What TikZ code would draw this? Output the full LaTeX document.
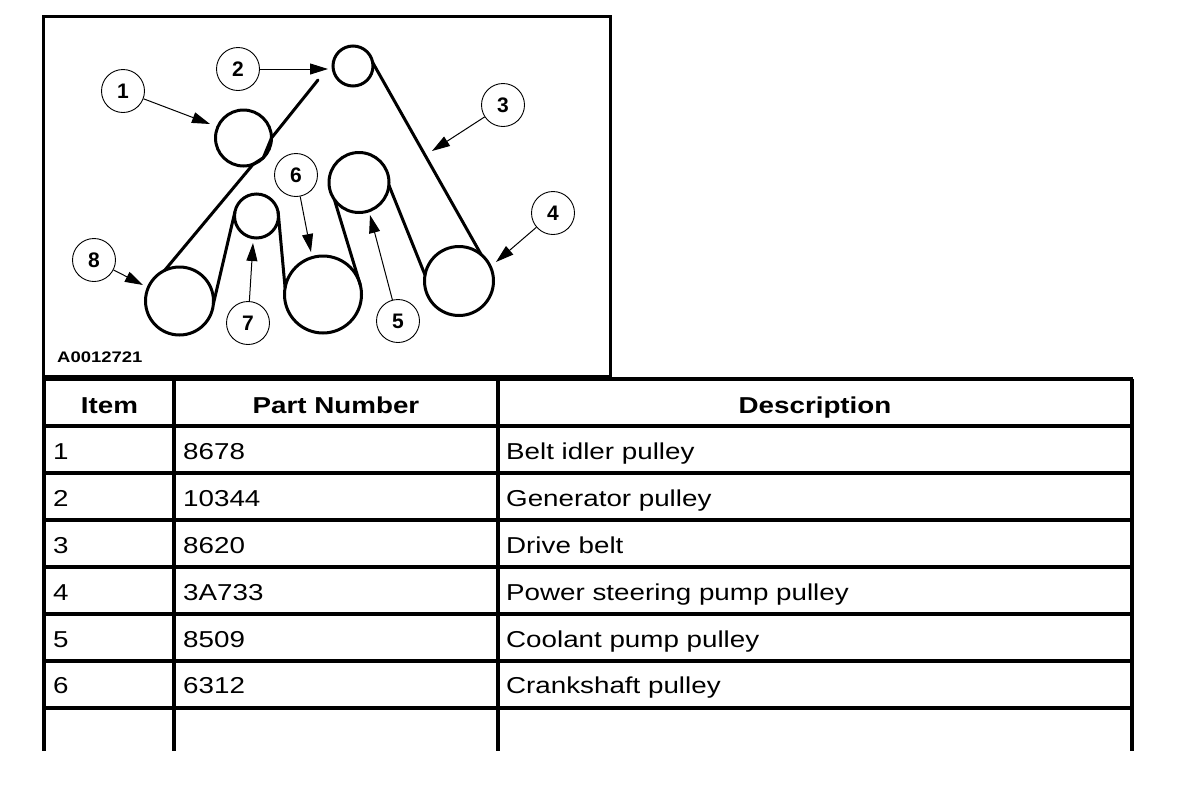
\documentclass[tikz,border=0pt]{standalone}
\usepackage{fontspec}
\setmainfont[FakeStretch=1.207]{Liberation Sans}
\newfontfamily\calloutfont[FakeStretch=1.0]{Liberation Sans}
\usetikzlibrary{arrows.meta}
\tikzset{
 x=1pt,y=-1pt,
 pulley/.style={circle,draw,line width=3pt,minimum size=#1,inner sep=0pt,outer sep=0pt},
 belt/.style={line width=3pt,line cap=round,line join=round},
 callout/.style={circle,draw,line width=0.9pt,minimum size=43pt,inner sep=0pt,font=\calloutfont\fontsize{21}{21}\selectfont\bfseries},
 leader/.style={line width=1pt,-{Triangle[length=18pt,width=11pt]}},
 rule/.style={line width=3.4pt},
 cell/.style={anchor=base west,inner sep=0pt,font=\fontsize{23}{24}\selectfont},
 head/.style={anchor=base,inner sep=0pt,font=\fontsize{23}{24}\selectfont\bfseries},
}
\begin{document}
\begin{tikzpicture}
\useasboundingbox (0,0) rectangle (1200,796);
% frame
\node[draw,line width=3pt,minimum width=567pt,minimum height=360pt,inner sep=0pt,outer sep=0pt,anchor=north west] (frame) at (43,16) {};
% pulleys
\node[pulley=56pt] (p1) at (243.5,138) {};
\node[pulley=40pt] (p2) at (353,66) {};
\node[pulley=60pt] (p5) at (359,182.5) {};
\node[pulley=69pt] (p4) at (459,281) {};
\node[pulley=77pt] (p6) at (323,294.5) {};
\node[pulley=44pt] (p7) at (256.5,216) {};
\node[pulley=68pt] (p8) at (179.5,301) {};
% belts
\coordinate (beltend) at (318,80);
\draw[belt] (p8.116) -- (p1.-70) -- (p1.-45) -- (p1.0) -- (beltend);
\draw[belt] (p2.10) -- (p4.50);
\draw[belt] (p7.170) -- (p8.-5);
\draw[belt] (p7.10) -- (p6.170);
\draw[belt] (p5.215) -- (p6.15);
\draw[belt] (p5.-5) -- (p4.170);
% callouts
\node[callout] (c1) at (123,91) {1};
\node[callout] (c2) at (238,69) {2};
\node[callout] (c3) at (503,105) {3};
\node[callout] (c4) at (553,213) {4};
\node[callout] (c5) at (398,321) {5};
\node[callout] (c6) at (296,175) {6};
\node[callout] (c7) at (248,323) {7};
\node[callout] (c8) at (94,260) {8};
\coordinate (t1) at (210,124);
\coordinate (t2) at (328,69);
\coordinate (t3) at (432,151);
\coordinate (t4) at (496,262);
\coordinate (t5) at (370,215);
\coordinate (t6) at (311,252);
\coordinate (t7) at (253,243);
\coordinate (t8) at (143,285);
\foreach \i in {1,...,8} \draw[leader] (c\i) -- (t\i);
\node[anchor=base west,inner sep=0pt,font=\fontsize{15.3}{16}\selectfont\bfseries] (code) at (57,362.5) {A0012721};
% table
\foreach \y in {379,426,473,520,567,614,661,708}
  \draw[rule] (42,\y) -- (1133,\y);
\foreach \x in {44,174,498,1132}
  \draw[rule] (\x,379) -- (\x,751);
\node[head] (h1) at (109.5,413) {Item};
\node[head] (h2) at (336,413) {Part Number};
\node[head] (h3) at (815,413) {Description};
\foreach \y/\a/\b/\c in {459/1/8678/Belt idler pulley,
  506/2/10344/Generator pulley,
  553/3/8620/Drive belt,
  600/4/3A733/Power steering pump pulley,
  647/5/8509/Coolant pump pulley,
  693/6/6312/Crankshaft pulley}{
  \node[cell] at (53,\y) {\a};
  \node[cell] at (183,\y) {\b};
  \node[cell] at (506,\y) {\c};
}
\end{tikzpicture}
\end{document}
